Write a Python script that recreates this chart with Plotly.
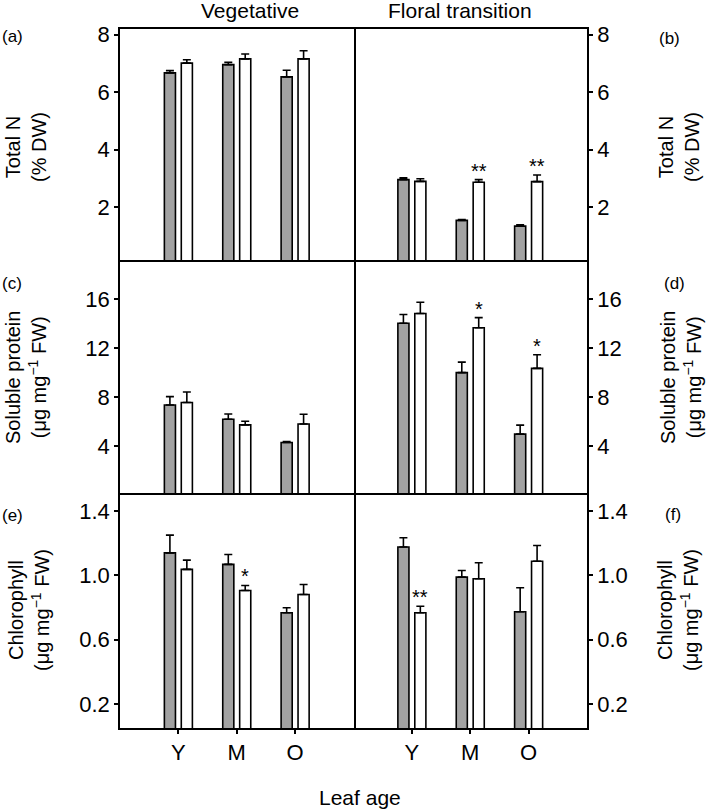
import plotly.graph_objects as go

# ---------------- data ----------------
categories = ["Y", "M", "O"]
cat_pos = [1, 2, 3]

# panel (a) Vegetative, Total N
a_gray = [6.67, 6.96, 6.53]
a_gray_err = [0.08, 0.08, 0.23]
a_white = [7.01, 7.16, 7.16]
a_white_err = [0.12, 0.17, 0.28]
a_sig = ["", "", ""]

# panel (b) Floral transition, Total N
b_gray = [2.95, 1.53, 1.33]
b_gray_err = [0.06, 0.03, 0.05]
b_white = [2.89, 2.86, 2.88]
b_white_err = [0.09, 0.09, 0.23]
b_sig = ["", "**", "**"]

# panel (c) Vegetative, soluble protein
c_gray = [7.37, 6.21, 4.32]
c_gray_err = [0.68, 0.43, 0.08]
c_white = [7.57, 5.75, 5.83]
c_white_err = [0.86, 0.30, 0.79]
c_sig = ["", "", ""]

# panel (d) Floral transition, soluble protein
d_gray = [14.02, 10.0, 5.0]
d_gray_err = [0.71, 0.86, 0.73]
d_white = [14.81, 13.65, 10.35]
d_white_err = [0.92, 0.83, 1.11]
d_sig = ["", "*", "*"]

# panel (e) Vegetative, chlorophyll
e_gray = [1.14, 1.068, 0.767]
e_gray_err = [0.11, 0.062, 0.031]
e_white = [1.037, 0.906, 0.881]
e_white_err = [0.058, 0.031, 0.062]
e_sig = ["", "*", ""]

# panel (f) Floral transition, chlorophyll
f_gray = [1.176, 0.989, 0.773]
f_gray_err = [0.058, 0.041, 0.15]
f_white = [0.767, 0.979, 1.088]
f_white_err = [0.041, 0.099, 0.098]
f_sig = ["**", "", ""]

panel_letters = ["(a)", "(b)", "(c)", "(d)", "(e)", "(f)"]
column_titles = ["Vegetative", "Floral transition"]
row_titles = ["Total N<br>(% DW)",
              "Soluble protein<br>(μg mg<sup>−1</sup> FW)",
              "Chlorophyll<br>(μg mg<sup>−1</sup> FW)"]
row_tickvals = [[2, 4, 6, 8], [4, 8, 12, 16], [0.2, 0.6, 1.0, 1.4]]
row_ticktext = [["2", "4", "6", "8"], ["4", "8", "12", "16"], ["0.2", "0.6", "1.0", "1.4"]]
row_ranges = [[0.08, 8.2], [0.05, 19], [0.05, 1.5]]
x_title = "Leaf age"

panels = [
    (a_gray, a_gray_err, a_white, a_white_err, a_sig),
    (b_gray, b_gray_err, b_white, b_white_err, b_sig),
    (c_gray, c_gray_err, c_white, c_white_err, c_sig),
    (d_gray, d_gray_err, d_white, d_white_err, d_sig),
    (e_gray, e_gray_err, e_white, e_white_err, e_sig),
    (f_gray, f_gray_err, f_white, f_white_err, f_sig),
]

# ---------------- layout geometry ----------------
W, H = 709, 811
ML, MR, MT, MB = 120, 122, 29, 83
PW = W - ML - MR
PH = H - MT - MB
FONT = "Liberation Sans, Arial, sans-serif"
GRAY = "#a2a2a2"
LW = 1.6
BW = 0.19
G_OFF = -0.24
W_OFF = 0.05


def px(x):
    # page pixel -> paper fraction
    return (x - ML) / PW


def py(y):
    return (H - MB - y) / PH


fig = go.Figure()
annotations = []
layout = {}

for i, (g, ge, w, we, sig) in enumerate(panels):
    r, c = i // 2, i % 2
    k = i + 1
    xa = "x" if k == 1 else f"x{k}"
    ya = "y" if k == 1 else f"y{k}"
    fig.add_trace(go.Bar(
        x=cat_pos, y=g, xaxis=xa, yaxis=ya, offset=G_OFF, width=BW,
        marker=dict(color=GRAY, line=dict(color="black", width=LW)),
        error_y=dict(type="data", symmetric=False, array=ge, arrayminus=[0] * 3,
                     color="black", thickness=LW, width=4),
        showlegend=False, hoverinfo="skip"))
    fig.add_trace(go.Bar(
        x=cat_pos, y=w, xaxis=xa, yaxis=ya, offset=W_OFF, width=BW,
        marker=dict(color="white", line=dict(color="black", width=LW)),
        error_y=dict(type="data", symmetric=False, array=we, arrayminus=[0] * 3,
                     color="black", thickness=LW, width=4),
        showlegend=False, hoverinfo="skip"))
    for j in range(3):
        if sig[j]:
            annotations.append(dict(
                x=cat_pos[j] + W_OFF + BW / 2, y=w[j] + we[j], xref=xa, yref=ya,
                text=sig[j], showarrow=False, xanchor="center", yanchor="middle", yshift=9,
                font=dict(family=FONT, size=20, color="black")))
    bottom = (r == 2)
    layout["xaxis" if k == 1 else f"xaxis{k}"] = dict(
        domain=[0.5 * c, 0.5 * (c + 1)], anchor=ya, range=[0, 4],
        side="bottom" if bottom else "top",
        tickvals=cat_pos, ticktext=categories,
        showticklabels=bottom, ticks="outside" if bottom else "",
        ticklen=4, tickwidth=1.5, tickcolor="black",
        showline=True, mirror=bottom, linecolor="black", linewidth=LW,
        showgrid=False, zeroline=False,
        tickfont=dict(family=FONT, size=22, color="black"))
    layout["yaxis" if k == 1 else f"yaxis{k}"] = dict(
        domain=[(2 - r) / 3, (3 - r) / 3], anchor=xa, range=row_ranges[r],
        side="left" if c == 0 else "right",
        tickvals=row_tickvals[r], ticktext=row_ticktext[r],
        ticks="outside", ticklen=4, tickwidth=1.5, tickcolor="black",
        showline=True, mirror=(c == 0), linecolor="black", linewidth=LW,
        showgrid=False, zeroline=False,
        tickfont=dict(family=FONT, size=22, color="black"))


def txt(x, y, text, size, angle=0):
    return dict(x=px(x), y=py(y), xref="paper", yref="paper", text=text,
                showarrow=False, xanchor="center", yanchor="middle", textangle=angle,
                font=dict(family=FONT, size=size, color="black"))


# column titles
annotations.append(txt(250, 11, column_titles[0], 21))
annotations.append(txt(460, 11, column_titles[1], 21))
# x title
annotations.append(txt(360, 797, x_title, 21))

# row (y-axis) titles, both sides
row_centers = [147, 378, 610]
left_x = [26, 26, 29]
right_x = [679, 681, 678]
for r in range(3):
    for xx in (left_x[r], right_x[r]):
        annotations.append(txt(xx, row_centers[r], row_titles[r], 20, -90))

# panel letters
letter_pos = [(12, 37), (669, 39), (12, 283), (674, 283), (12, 515), (673, 514)]
for lab, (lx, ly) in zip(panel_letters, letter_pos):
    annotations.append(txt(lx, ly, lab, 17))

fig.update_layout(
    width=W, height=H, margin=dict(l=ML, r=MR, t=MT, b=MB, autoexpand=False),
    paper_bgcolor="white", plot_bgcolor="white",
    barmode="overlay", annotations=annotations, **layout)

fig.write_html("out.html", config={"displayModeBar": False},
               post_script="document.body.style.margin='0px';document.body.style.padding='0px';")
